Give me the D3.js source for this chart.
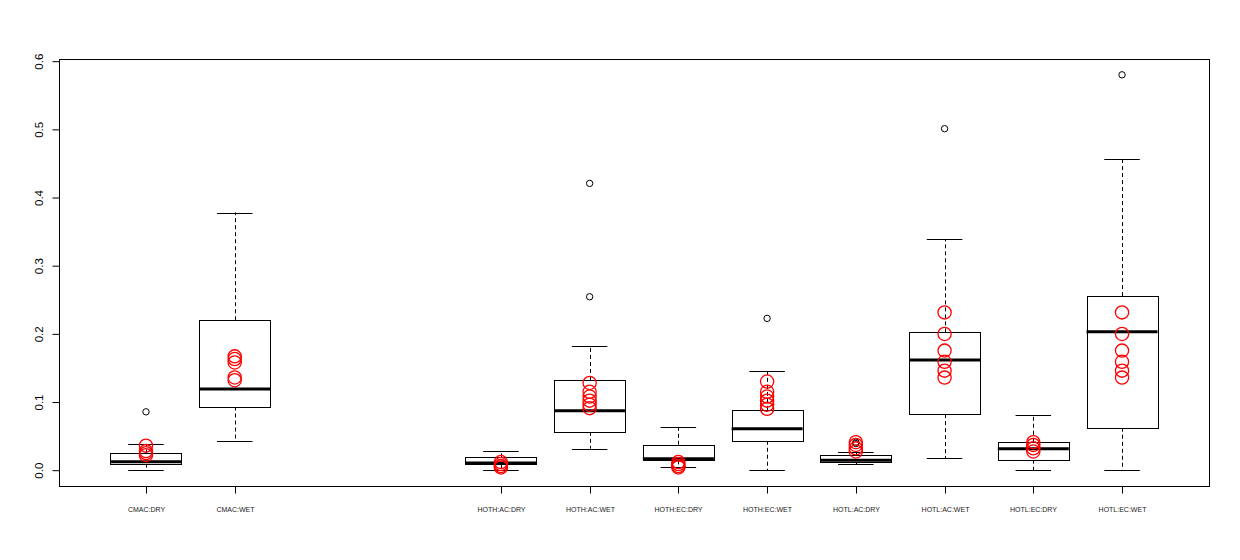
<!DOCTYPE html>
<html>
<head>
<meta charset="utf-8">
<script src="https://cdn.jsdelivr.net/npm/d3@7"></script>
<style>
html,body{margin:0;padding:0;background:#fff;}
svg{display:block;font-family:"Liberation Sans",Arial,sans-serif;}
</style>
</head>
<body>
<svg id="chart" width="1240" height="560"></svg>
<script>
// ---- data ----
const categories = ["CMAC:DRY","CMAC:WET","","","HOTH:AC:DRY","HOTH:AC:WET","HOTH:EC:DRY","HOTH:EC:WET","HOTL:AC:DRY","HOTL:AC:WET","HOTL:EC:DRY","HOTL:EC:WET"];
const whiskerLow  = [0.000,0.043,null,null,0.000,0.0315,0.0047,0.000,0.009,0.0178,0.000,0.000];
const q1          = [0.0095,0.0934,null,null,0.009,0.0563,0.0144,0.0432,0.0115,0.0822,0.0154,0.0622];
const medians     = [0.0124,0.119,null,null,0.0105,0.0871,0.0168,0.0607,0.0144,0.1617,0.0315,0.2031];
const q3          = [0.0246,0.220,null,null,0.0188,0.1324,0.0373,0.0885,0.0217,0.2022,0.0417,0.2554];
const whiskerHigh = [0.038,0.378,null,null,0.0285,0.1827,0.0632,0.1456,0.026,0.339,0.0807,0.4559];
const outliers    = [[0.0856],[],[],[],[],[0.2544,0.4207],[],[0.2227],[0.041,0.039],[0.501],[],[0.580]];
const redPoints   = [
  [0.036,0.028,0.025,0.022],
  [0.167,0.163,0.158,0.136,0.132],
  [],[],
  [0.012,0.009,0.006,0.004],
  [0.128,0.115,0.108,0.102,0.096,0.091],
  [0.012,0.009,0.006,0.004],
  [0.130,0.115,0.108,0.102,0.096,0.090],
  [0.041,0.037,0.032,0.0275],
  [0.2315,0.1998,0.1754,0.159,0.146,0.1358],
  [0.041,0.037,0.032,0.0275],
  [0.2315,0.1998,0.1754,0.159,0.146,0.1358]
];
const yTicks = [0,0.1,0.2,0.3,0.4,0.5,0.6];

// ---- layout ----
const svg = d3.select("#chart");
const pLeft = 59, pRight = 1209, pTop = 59, pBottom = 486;
const x = d3.scaleLinear().domain([0.02, categories.length + 0.98]).range([pLeft, pRight]);
const y = d3.scaleLinear().domain([-0.0232, 0.6032]).range([pBottom, pTop]);
const slotW = x(2) - x(1);
const boxW = slotW * 0.8, capW = boxW * 0.5;
const crisp = v => Math.round(v) + 0.5;

// frame
svg.append("rect").attr("x", pLeft + 0.5).attr("y", pTop + 0.5)
  .attr("width", pRight - pLeft).attr("height", pBottom - pTop)
  .attr("fill", "none").attr("stroke", "#000").attr("stroke-width", 1);

// y axis
const yAxis = svg.append("g").attr("transform", `translate(${pLeft + 0.5},0)`)
  .call(d3.axisLeft(y).tickValues(yTicks).tickFormat(d3.format(".1f")).tickSize(7).tickSizeOuter(0));
yAxis.select(".domain").remove();
yAxis.selectAll(".tick line").attr("stroke", "#000");
yAxis.selectAll(".tick text").remove();
yAxis.selectAll(".tick").append("text")
  .attr("transform", "rotate(-90)")
  .attr("x", 0).attr("y", -17)
  .attr("text-anchor", "middle")
  .attr("fill", "#000")
  .style("font-size", "11.5px")
  .style("font-family", "'Liberation Sans',Arial,sans-serif")
  .text(d => d3.format(".1f")(d));

// x axis ticks & labels
const idx = d3.range(categories.length).filter(i => categories[i] !== "");
const xg = svg.append("g");
idx.forEach(i => {
  const cx = crisp(x(i + 1));
  xg.append("line").attr("x1", cx).attr("x2", cx).attr("y1", pBottom + 0.5).attr("y2", pBottom + 7.5)
    .attr("stroke", "#000");
  xg.append("text").attr("x", cx).attr("y", 512).attr("text-anchor", "middle")
    .style("font-size", "7px").attr("fill", "#222").text(categories[i]);
});

// boxes
const g = svg.append("g");
idx.forEach(i => {
  const cx = x(i + 1);
  const xc = crisp(cx);
  g.append("line").attr("x1", xc).attr("x2", xc).attr("y1", y(q3[i])).attr("y2", y(whiskerHigh[i]))
    .attr("stroke", "#000").attr("stroke-dasharray", "4,3");
  g.append("line").attr("x1", xc).attr("x2", xc).attr("y1", y(q1[i])).attr("y2", y(whiskerLow[i]))
    .attr("stroke", "#000").attr("stroke-dasharray", "4,3");
  [whiskerHigh[i], whiskerLow[i]].forEach(v => {
    g.append("line").attr("x1", cx - capW / 2).attr("x2", cx + capW / 2)
      .attr("y1", crisp(y(v))).attr("y2", crisp(y(v))).attr("stroke", "#000");
  });
  const yt = crisp(y(q3[i])), yb = crisp(y(q1[i]));
  g.append("rect").attr("x", crisp(cx - boxW / 2)).attr("y", yt)
    .attr("width", Math.round(boxW)).attr("height", Math.max(1, yb - yt))
    .attr("fill", "#fff").attr("stroke", "#000");
  g.append("line").attr("x1", cx - boxW / 2).attr("x2", cx + boxW / 2)
    .attr("y1", y(medians[i])).attr("y2", y(medians[i]))
    .attr("stroke", "#000").attr("stroke-width", 3);
  outliers[i].forEach(v => {
    g.append("circle").attr("cx", cx).attr("cy", y(v)).attr("r", 3.2)
      .attr("fill", "none").attr("stroke", "#000").attr("stroke-width", 1);
  });
});

// red points
const rg = svg.append("g");
idx.forEach(i => {
  redPoints[i].forEach(v => {
    rg.append("circle").attr("cx", x(i + 1)).attr("cy", y(v)).attr("r", 6.6)
      .attr("fill", "none").attr("stroke", "#ff0000").attr("stroke-width", 1.3);
  });
});
</script>
</body>
</html>
